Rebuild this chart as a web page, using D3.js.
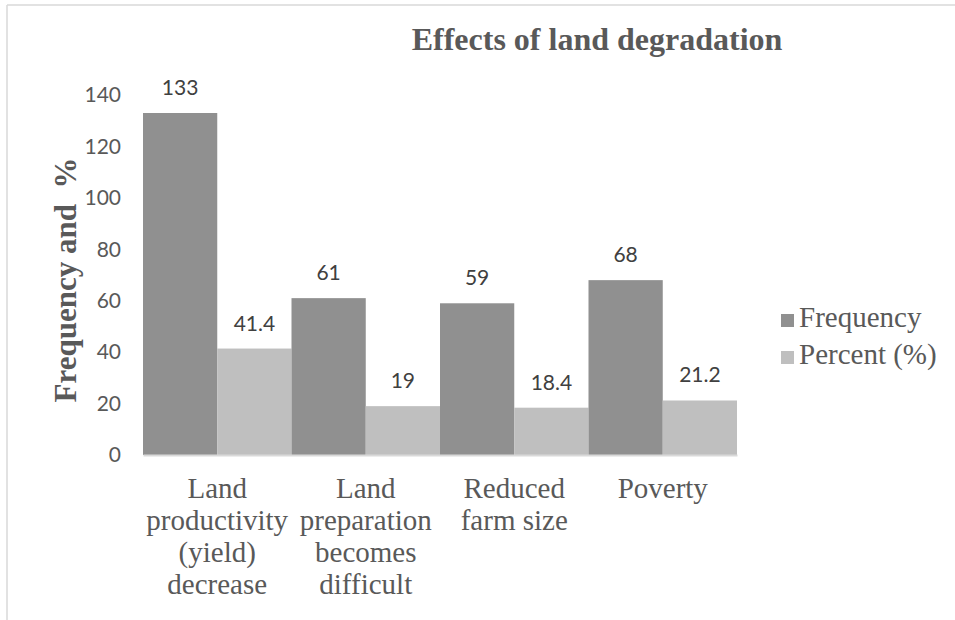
<!DOCTYPE html>
<html lang="en">
<head>
  <meta charset="utf-8">
  <title>Effects of land degradation</title>
  <style>
    body { margin: 0; background: #fff; }
    .serif { font-family: "Liberation Serif", "Times New Roman", serif; }
    .sans { font-family: Lato, "Open Sans", sans-serif; }
  </style>
</head>
<body>

<svg width="955" height="620"></svg>
<script src="https://d3js.org/d3.v7.min.js"></script>

<script>
  var categories = [
    ["Land", "productivity", "(yield)", "decrease"],
    ["Land", "preparation", "becomes", "difficult"],
    ["Reduced", "farm size"],
    ["Poverty"]
  ];
  var seriesNames = ["Frequency", "Percent (%)"];
  var frequency = [133, 61, 59, 68];
  var percent = [41.4, 19, 18.4, 21.2];
  var yTicks = [0, 20, 40, 60, 80, 100, 120, 140];

  var colors = ["#909090", "#bfbfbf"];

  var svg = d3.select("svg");

  // frame lines (top and left only)
  svg.append("line").attr("x1", 7).attr("x2", 955).attr("y1", 5).attr("y2", 5)
    .attr("stroke", "#d9d9d9").attr("stroke-width", 1.5);
  svg.append("line").attr("x1", 7).attr("x2", 7).attr("y1", 5).attr("y2", 620)
    .attr("stroke", "#d9d9d9").attr("stroke-width", 1.5);

  var keys = categories.map(function(c, i) { return "c" + i; });
  var data = keys.map(function(k, i) {
    return {key: k, lines: categories[i], values: [frequency[i], percent[i]]};
  });

  var x0 = d3.scaleBand().domain(keys).range([143, 737]).padding(0);
  var x1 = d3.scaleBand().domain([0, 1]).range([0, x0.bandwidth()]).padding(0);
  var y = d3.scaleLinear().domain([0, 140]).range([455, 95]);

  // y axis labels
  var yAxis = svg.append("g")
    .attr("transform", "translate(126,0)")
    .call(d3.axisLeft(y).tickValues(yTicks).tickSize(0).tickPadding(5));
  yAxis.select(".domain").remove();
  yAxis.attr("font-family", null);
  yAxis.selectAll("text")
    .attr("class", "sans").attr("font-size", 21).attr("fill", "#595959");

  // bars
  var group = svg.selectAll(".grp")
    .data(data)
    .enter().append("g")
    .attr("class", "grp")
    .attr("transform", function(d) { return "translate(" + x0(d.key) + ",0)"; });

  group.selectAll("rect")
    .data(function(d) { return d.values.map(function(v, j) { return {j: j, v: v}; }); })
    .enter().append("rect")
    .attr("x", function(d) { return x1(d.j); })
    .attr("y", function(d) { return y(d.v); })
    .attr("width", x1.bandwidth())
    .attr("height", function(d) { return y(0) - y(d.v); })
    .attr("fill", function(d) { return colors[d.j]; });

  group.selectAll(".lbl")
    .data(function(d) { return d.values.map(function(v, j) { return {j: j, v: v}; }); })
    .enter().append("text")
    .attr("class", "lbl sans")
    .attr("x", function(d) { return x1(d.j) + x1.bandwidth() / 2; })
    .attr("y", function(d) { return y(d.v) - 18; })
    .attr("text-anchor", "middle")
    .attr("font-size", 21).attr("fill", "#404040")
    .text(function(d) { return d.v; });

  // x axis line
  var xAxis = svg.append("g")
    .attr("transform", "translate(0," + y(0) + ")")
    .call(d3.axisBottom(x0).tickSize(0).tickFormat(""));
  xAxis.select(".domain").attr("stroke", "#d9d9d9").attr("stroke-width", 2);

  // category labels
  var cat = svg.selectAll(".cat")
    .data(data)
    .enter().append("text")
    .attr("class", "cat serif")
    .attr("text-anchor", "middle")
    .attr("font-size", 29).attr("fill", "#595959");
  cat.selectAll("tspan")
    .data(function(d) { return d.lines.map(function(l) { return {l: l, k: d.key}; }); })
    .enter().append("tspan")
    .attr("class", "serif")
    .attr("x", function(d) { return x0(d.k) + x0.bandwidth() / 2; })
    .attr("y", function(d, i) { return 498 + i * 32; })
    .text(function(d) { return d.l; });

  // title
  svg.append("text")
    .attr("class", "serif")
    .attr("x", 597).attr("y", 50)
    .attr("text-anchor", "middle")
    .attr("font-weight", "bold").attr("font-size", 32)
    .attr("fill", "#595959")
    .text("Effects of land degradation");

  // y axis title
  svg.append("text")
    .attr("class", "serif")
    .attr("transform", "translate(76,280) rotate(-90)")
    .attr("text-anchor", "middle")
    .attr("font-weight", "bold").attr("font-size", 31)
    .attr("fill", "#595959")
    .style("white-space", "pre")
    .text("Frequency and  %");

  // legend
  var legend = svg.selectAll(".leg")
    .data(seriesNames)
    .enter().append("g")
    .attr("class", "leg")
    .attr("transform", function(d, i) { return "translate(781," + (314 + i * 37) + ")"; });
  legend.append("rect")
    .attr("width", 13).attr("height", 13)
    .attr("fill", function(d, i) { return colors[i]; });
  legend.append("text")
    .attr("class", "serif")
    .attr("x", 18).attr("y", 13)
    .attr("font-size", 29).attr("fill", "#595959")
    .text(function(d) { return d; });
</script>

</body>
</html>
